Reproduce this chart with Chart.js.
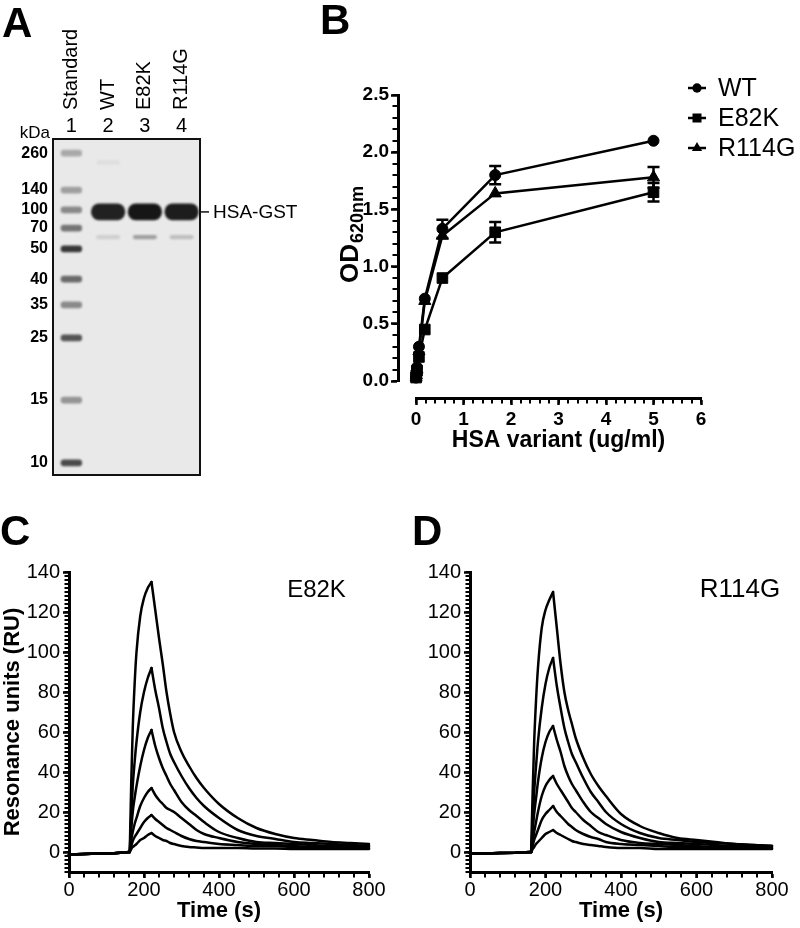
<!DOCTYPE html>
<html>
<head>
<meta charset="utf-8">
<script src="https://cdn.jsdelivr.net/npm/chart.js@4.4.1/dist/chart.umd.min.js"></script>
<style>
  html, body { margin: 0; padding: 0; background: #fff; }
  #fig { position: relative; width: 800px; height: 928px; overflow: hidden; }
  #fig canvas { position: absolute; left: 0; top: 0; }
  .tag { position: absolute; font: bold 42px "Liberation Sans", Arial, sans-serif; line-height: 42px; color: #000; }
</style>
</head>
<body>
<div id="fig">
  <canvas id="gel" width="800" height="928"></canvas>
  <canvas id="elisa" width="800" height="928"></canvas>
  <canvas id="sprC" width="800" height="928"></canvas>
  <canvas id="sprD" width="800" height="928"></canvas>
  <div class="tag" style="left:2px;top:2px">A</div>
  <div class="tag" style="left:320px;top:-1px">B</div>
  <div class="tag" style="left:0px;top:510px">C</div>
  <div class="tag" style="left:412px;top:510px">D</div>
</div>
<script>
// ---- Panel A: SDS-PAGE, relative mobility (0 = top of gel, 1 = bottom) ----
const laneNames = ['Standard', 'WT', 'E82K', 'R114G'];
const laneNums = ['1', '2', '3', '4'];
const ladderKDa = [260, 140, 100, 70, 50, 40, 35, 25, 15, 10];
const ladderRf = [0.042, 0.152, 0.211, 0.265, 0.327, 0.417, 0.494, 0.592, 0.777, 0.964];
const ladderIntensity = [0.3, 0.35, 0.45, 0.55, 0.85, 0.6, 0.45, 0.7, 0.4, 0.75];
const fusionLanes = ['WT', 'E82K', 'R114G'];
const fusionRf = [0.217, 0.217, 0.217];
const fusionIntensity = [0.95, 1, 0.97];
const minorLanes = ['WT', 'E82K', 'R114G', 'WT'];
const minorRf = [0.292, 0.292, 0.292, 0.07];
const minorIntensity = [0.12, 0.35, 0.2, 0.05];

// ---- Panel B: binding ELISA ----
const conc = [5, 1.667, 0.556, 0.185, 0.062, 0.021, 0.007, 0.002];
const odWT = [2.10, 1.80, 1.33, 0.72, 0.30, 0.12, 0.06, 0.03];
const errWT = [0.01, 0.08, 0.08, 0.03, 0.02, 0.01, 0.01, 0.01];
const odE82K = [1.65, 1.30, 0.90, 0.45, 0.21, 0.09, 0.05, 0.03];
const errE82K = [0.08, 0.09, 0.02, 0.02, 0.02, 0.01, 0.01, 0.01];
const odR114G = [1.78, 1.64, 1.27, 0.70, 0.26, 0.10, 0.05, 0.03];
const errR114G = [0.09, 0.02, 0.03, 0.03, 0.02, 0.01, 0.01, 0.01];
const odYTicks = [0, 0.5, 1.0, 1.5, 2.0, 2.5];
const concXTicks = [0, 1, 2, 3, 4, 5, 6];
const odTitle = ['OD', '620nm'];

// ---- Panels C, D: SPR sensorgrams ----
const sprTime = [0, 40, 80, 120, 162, 166, 170, 175, 180, 190, 200, 210, 220, 230, 240, 250, 260, 270, 280,
  300, 320, 340, 360, 400, 450, 500, 550, 600, 650, 700, 750, 800];
const sprE82K = [
  [-1.2, -1.0, -0.8, -0.6, 0, 35, 62, 84, 100, 118, 127, 132, 135, 121, 107, 94, 80, 69, 60, 50, 43, 37, 32, 24, 17, 12, 9, 7, 6, 5, 4.5, 4],
  [-1.2, -1.0, -0.8, -0.6, 0, 18, 33, 45, 55, 70, 80, 87, 92, 81, 72, 62, 55, 49, 45, 38, 32, 27, 23, 17, 11, 8, 6.5, 5, 4.5, 4, 3.5, 3],
  [-1.2, -1.0, -0.8, -0.6, 0, 11, 20, 27, 33, 43, 51, 57, 61, 53, 47, 42, 38, 34, 31, 25, 21, 18, 15, 10, 7, 5, 4.5, 4, 3.5, 3, 3, 3],
  [-1.2, -1.0, -0.8, -0.6, 0, 6, 10, 14, 17, 23, 27, 30, 32, 28.5, 26, 24, 22, 21, 20, 17, 14, 11, 9, 7, 5, 4, 3.5, 3, 2.5, 2.5, 2, 2],
  [-1.2, -1.0, -0.8, -0.6, 0, 3, 5.5, 7.5, 9, 12, 15, 17, 18.5, 16.5, 15, 13.5, 12, 11, 10, 8, 6.5, 5.5, 5, 4, 3.5, 3, 3, 2.5, 2.5, 2, 2, 2],
  [-1.2, -1.0, -0.8, -0.6, 0, 1.5, 2.5, 3.2, 4, 6, 7, 8.5, 9.5, 8, 7, 6, 5.5, 4.5, 4, 3, 2.5, 2.3, 2, 2, 2, 1.8, 1.8, 1.5, 1.5, 1.5, 1.5, 1.5]
];
const sprR114G = [
  [-0.8, -0.7, -0.5, -0.4, 0, 30, 55, 76, 92, 112, 121, 126, 130, 112, 94, 80, 71, 64, 57, 47, 39, 33, 28, 19, 13, 9.5, 7, 6, 5, 4, 3.5, 3],
  [-0.8, -0.7, -0.5, -0.4, 0, 15, 30, 43, 55, 72, 84, 92, 97, 83, 72, 62, 55, 49, 45, 37, 30, 25, 20, 14, 9.5, 7, 6, 5, 4.5, 4, 3.5, 3],
  [-0.8, -0.7, -0.5, -0.4, 0, 10, 19, 27, 35, 47, 55, 60, 63, 56, 50, 43, 38, 34, 31, 25, 20, 17, 14, 10, 7, 5, 4.5, 4, 3.5, 3, 3, 3],
  [-0.8, -0.7, -0.5, -0.4, 0, 5, 10, 15, 20, 28, 33, 36, 38, 34, 31, 28, 25, 22, 20, 16, 13, 10, 8.5, 6, 4.5, 4, 3.5, 3, 2.5, 2.5, 2, 2],
  [-0.8, -0.7, -0.5, -0.4, 0, 3, 6, 8.5, 11, 16, 19, 21, 23, 20, 18, 16, 14, 12.5, 11, 9, 7.5, 6.5, 5, 4, 3.5, 3, 2.5, 2.5, 2, 2, 2, 2],
  [-0.8, -0.7, -0.5, -0.4, 0, 1.5, 2.5, 4, 5, 7, 9, 10, 11, 9.5, 8.5, 7.5, 6.5, 5.5, 5, 4, 3.5, 3, 2.5, 2, 2, 1.5, 1.5, 1.5, 1.5, 1.5, 1.5, 1.5]
];
const injectStart = 162;  // s, start of association
const injectEnd = 220;    // s, start of dissociation
const sprXTicks = [0, 200, 400, 600, 800];
const sprYTicks = [0, 20, 40, 60, 80, 100, 120, 140];

const FONT = '"Liberation Sans", Arial, Helvetica, sans-serif';
Chart.defaults.font.family = FONT;
Chart.defaults.color = '#000';
Chart.defaults.animation = false;
Chart.defaults.events = [];
Chart.defaults.plugins.legend.display = false;
Chart.defaults.plugins.tooltip.enabled = false;

// short minor tick marks along the axes, placed through the chart's scales.
// len is measured from the outer edge of the 3px axis line.
function minorTicks(specs) {
  const half = 1.5;
  return {
    id: 'minorTicks',
    afterDraw(chart) {
      const ctx = chart.ctx;
      ctx.save();
      ctx.strokeStyle = '#000';
      ctx.lineWidth = 2;
      specs.forEach(m => {
        const s = chart.scales[m.axis];
        ctx.beginPath();
        for (let v = m.from; v <= m.to + 1e-9; v += m.step) {
          const p = Math.round(s.getPixelForValue(v));
          if (s.isHorizontal()) {
            ctx.moveTo(p, s.top);
            ctx.lineTo(p, s.top + half + m.len);
          } else {
            ctx.moveTo(s.right, p);
            ctx.lineTo(s.right - half - m.len, p);
          }
        }
        ctx.stroke();
      });
      ctx.restore();
    }
  };
}

// empty spacer axis, gives the Prism style gap between axis and plot
function gapAxis(position, size, weight) {
  return {
    type: 'linear', position, weight,
    ticks: { display: false },
    grid: { display: false, drawTicks: false },
    border: { display: false },
    afterFit: s => { if (s.isHorizontal()) s.height = size; else s.width = size; }
  };
}

// ================= Panel A =================
const gray = a => `rgba(22,22,22,${a})`;

const gelPlugin = {
  id: 'gelDeco',
  beforeDatasetsDraw(chart) {
    const { ctx, chartArea: a } = chart;
    ctx.save();
    ctx.fillStyle = '#e9e9e9';
    ctx.fillRect(a.left, a.top, a.right - a.left, a.bottom - a.top);
    ctx.filter = 'blur(1.3px)';
  },
  afterDatasetsDraw(chart) {
    chart.ctx.restore();
  },
  afterDraw(chart) {
    const { ctx, chartArea: a, scales: { x, y } } = chart;
    ctx.save();
    ctx.strokeStyle = '#111';
    ctx.lineWidth = 2;
    ctx.strokeRect(a.left, a.top, a.right - a.left, a.bottom - a.top);
    ctx.fillStyle = '#000';
    // lane labels
    laneNames.forEach((name, i) => {
      const px = x.getPixelForValue(i);
      ctx.font = '20px ' + FONT;
      ctx.textAlign = 'center';
      ctx.textBaseline = 'middle';
      ctx.fillText(laneNums[i], px, a.top - 13);
      ctx.save();
      ctx.translate(px, a.top - 29);
      ctx.rotate(-Math.PI / 2);
      ctx.textAlign = 'left';
      ctx.fillText(name, 0, 0);
      ctx.restore();
    });
    // kDa unit
    ctx.font = '17px ' + FONT;
    ctx.textAlign = 'right';
    ctx.fillText('kDa', a.left - 3, a.top - 6);
    // HSA-GST marker
    const by = y.getPixelForValue(fusionRf[0]);
    ctx.lineWidth = 1.5;
    ctx.beginPath();
    ctx.moveTo(a.right, by);
    ctx.lineTo(a.right + 9, by);
    ctx.stroke();
    ctx.font = '19px ' + FONT;
    ctx.textAlign = 'left';
    ctx.fillText('HSA-GST', a.right + 13, by + 1);
    ctx.restore();
  }
};

new Chart(document.getElementById('gel'), {
  type: 'bar',
  data: {
    labels: laneNames,
    datasets: [
      {
        label: 'ladder',
        data: ladderRf.map(r => ({ x: laneNames[0], y: [r - 0.01, r + 0.01] })),
        backgroundColor: ladderIntensity.map(gray),
        barPercentage: 0.58, categoryPercentage: 1, grouped: false,
        borderRadius: 3, borderSkipped: false
      },
      {
        label: 'HSA-GST',
        data: fusionLanes.map((l, i) => ({ x: l, y: [fusionRf[i] - 0.025, fusionRf[i] + 0.025] })),
        backgroundColor: fusionIntensity.map(gray),
        barPercentage: 0.93, categoryPercentage: 1, grouped: false,
        borderRadius: 8, borderSkipped: false
      },
      {
        label: 'minor',
        data: minorLanes.map((l, i) => ({ x: l, y: [minorRf[i] - 0.006, minorRf[i] + 0.006] })),
        backgroundColor: minorIntensity.map(gray),
        barPercentage: 0.65, categoryPercentage: 1, grouped: false,
        borderRadius: 3, borderSkipped: false
      }
    ]
  },
  options: {
    responsive: false,
    devicePixelRatio: 1,
    layout: { padding: { left: 0, top: 139, right: 600, bottom: 453 } },
    scales: {
      x: { type: 'category', display: false, afterFit: s => { s.height = 0; } },
      y: {
        type: 'linear', reverse: true, min: 0, max: 1,
        afterBuildTicks: s => { s.ticks = ladderRf.map(v => ({ value: v })); },
        ticks: { autoSkip: false, padding: 5, font: { size: 16, weight: 'bold' }, callback: (v, i) => ladderKDa[i] },
        grid: { display: false, drawTicks: false },
        border: { display: false },
        afterFit: s => { s.width = 53; }
      }
    }
  },
  plugins: [gelPlugin]
});

// ================= Panel B =================
const errorBarPlugin = {
  id: 'errorBars',
  afterDatasetsDraw(chart) {
    const { ctx, scales: { y } } = chart;
    ctx.save();
    ctx.strokeStyle = '#000';
    ctx.lineWidth = 2.5;
    chart.data.datasets.forEach((ds, di) => {
      const meta = chart.getDatasetMeta(di);
      ds.errors.forEach((e, i) => {
        const pt = meta.data[i];
        const v = ds.data[i].y;
        const top = y.getPixelForValue(v + e);
        const bot = y.getPixelForValue(v - e);
        if (bot - top < 12) return;
        ctx.beginPath();
        ctx.moveTo(pt.x, top); ctx.lineTo(pt.x, bot);
        ctx.moveTo(pt.x - 6, top); ctx.lineTo(pt.x + 6, top);
        ctx.moveTo(pt.x - 6, bot); ctx.lineTo(pt.x + 6, bot);
        ctx.stroke();
      });
    });
    ctx.restore();
  }
};

const odDecoPlugin = {
  id: 'odDeco',
  afterDraw(chart) {
    const { ctx, chartArea: a } = chart;
    ctx.save();
    ctx.fillStyle = '#000';
    // y title with subscript
    ctx.translate(a.left - 58, (a.top + a.bottom) / 2 + 45);
    ctx.rotate(-Math.PI / 2);
    ctx.textAlign = 'left';
    ctx.textBaseline = 'alphabetic';
    ctx.font = 'bold 26px ' + FONT;
    ctx.fillText(odTitle[0], 0, 0);
    const w = ctx.measureText(odTitle[0]).width;
    ctx.font = 'bold 18px ' + FONT;
    ctx.fillText(odTitle[1], w + 1, 5);
    ctx.restore();

    // legend
    ctx.save();
    chart.data.datasets.forEach((ds, i) => {
      const cy = a.top - 7 + i * 30;
      const cx = a.right - 4;
      ctx.strokeStyle = '#000';
      ctx.fillStyle = '#000';
      ctx.lineWidth = 2.5;
      ctx.beginPath();
      ctx.moveTo(cx - 9, cy);
      ctx.lineTo(cx + 9, cy);
      ctx.stroke();
      Chart.helpers.drawPoint(ctx, { pointStyle: ds.pointStyle, radius: ds.pointRadius * 0.85, borderWidth: 0, rotation: 0 }, cx, cy);
      ctx.font = '25px ' + FONT;
      ctx.textAlign = 'left';
      ctx.textBaseline = 'middle';
      ctx.fillText(ds.label, a.right + 17, cy + 1);
    });
    ctx.restore();
  }
};

function odSeries(label, values, errors, pointStyle, radius) {
  return {
    label,
    data: conc.map((c, i) => ({ x: c, y: values[i] })),
    errors,
    borderColor: '#000', backgroundColor: '#000',
    borderWidth: 2.5,
    pointStyle, pointRadius: radius, pointBorderWidth: 1,
    pointBackgroundColor: '#000', pointBorderColor: '#000',
    tension: 0, clip: false
  };
}

new Chart(document.getElementById('elisa'), {
  type: 'line',
  data: {
    datasets: [
      odSeries('WT', odWT, errWT, 'circle', 5.5),
      odSeries('E82K', odE82K, errE82K, 'rect', 7.5),
      odSeries('R114G', odR114G, errR114G, 'triangle', 7)
    ]
  },
  options: {
    responsive: false,
    devicePixelRatio: 1,
    layout: { padding: { left: 338, top: 95, right: 99, bottom: 474 } },
    scales: {
      x: {
        type: 'linear', position: 'bottom', min: 0, max: 6, weight: 2,
        afterBuildTicks: s => { s.ticks = concXTicks.map(v => ({ value: v })); },
        ticks: { autoSkip: false, maxRotation: 0, padding: 3, font: { size: 19, weight: 'bold' } },
        grid: { drawOnChartArea: false, tickLength: 7, tickWidth: 2.5, tickColor: '#000' },
        border: { width: 3, color: '#000' },
        title: { display: true, text: 'HSA variant (ug/ml)', font: { size: 23, weight: 'bold' }, padding: 0 },
        afterFit: s => { s.height = 56; }
      },
      gapX: gapAxis('bottom', 17, 0),
      y: {
        type: 'linear', position: 'left', min: 0, max: 2.5, weight: 2,
        afterBuildTicks: s => { s.ticks = odYTicks.map(v => ({ value: v })); },
        ticks: { autoSkip: false, padding: 2, font: { size: 19, weight: 'bold' }, callback: v => v.toFixed(1) },
        grid: { drawOnChartArea: false, tickLength: 7, tickWidth: 2.5, tickColor: '#000' },
        border: { width: 3, color: '#000' },
        afterFit: s => { s.width = 60; }
      },
      gapY: gapAxis('left', 18, 0)
    }
  },
  plugins: [errorBarPlugin, odDecoPlugin, minorTicks([
    { axis: 'x', from: 0, to: 6, step: 0.2, len: 4 },
    { axis: 'y', from: 0, to: 2.5, step: 0.1, len: 4 }
  ])]
});

// ================= Panels C and D =================
const sprTagPlugin = {
  id: 'sprTag',
  afterDraw(chart, args, opts) {
    const { ctx, scales: { x, y } } = chart;
    ctx.save();
    ctx.fillStyle = '#000';
    ctx.font = opts.size + 'px ' + FONT;
    ctx.textAlign = 'center';
    ctx.textBaseline = 'middle';
    ctx.fillText(opts.text, x.getPixelForValue(opts.at[0]), y.getPixelForValue(opts.at[1]));
    ctx.restore();
  }
};

// each sensorgram is drawn as baseline, association and dissociation phases
function sprDatasets(curves) {
  const phases = [
    { keep: t => t <= injectStart, mode: 'default' },
    { keep: t => t >= injectStart && t <= injectEnd, mode: 'monotone' },
    { keep: t => t >= injectEnd, mode: 'monotone' }
  ];
  const out = [];
  curves.forEach(c => {
    phases.forEach(ph => {
      out.push({
        data: sprTime.map((t, i) => ({ x: t, y: c[i] })).filter(p => ph.keep(p.x)),
        borderColor: '#000',
        borderWidth: 2.5,
        pointRadius: 0,
        tension: 0,
        cubicInterpolationMode: ph.mode,
        borderCapStyle: 'round',
        clip: false
      });
    });
  });
  return out;
}

function sprChart(canvasId, curves, tag, frame) {
  return new Chart(document.getElementById(canvasId), {
    type: 'line',
    data: { datasets: sprDatasets(curves) },
    options: {
      responsive: false,
      devicePixelRatio: 1,
      layout: { padding: { left: frame.left, top: 572, right: frame.right, bottom: 4 } },
      plugins: { sprTag: tag },
      scales: {
        x: {
          type: 'linear', position: 'bottom', min: 0, max: 800,
          afterBuildTicks: s => { s.ticks = sprXTicks.map(v => ({ value: v })); },
          ticks: { autoSkip: false, maxRotation: 0, padding: 0, font: { size: 20 } },
          grid: { drawOnChartArea: false, tickLength: 6, tickWidth: 2.5, tickColor: '#000' },
          border: { width: 3, color: '#000' },
          title: { display: true, text: 'Time (s)', font: { size: 22, weight: 'bold' }, padding: 0 },
          afterFit: s => { s.height = 52; }
        },
        y: {
          type: 'linear', position: 'left', min: -10, max: 140,
          afterBuildTicks: s => { s.ticks = sprYTicks.map(v => ({ value: v })); },
          ticks: { autoSkip: false, padding: 3, font: { size: 20 } },
          grid: { drawOnChartArea: false, tickLength: 6, tickWidth: 2.5, tickColor: '#000' },
          border: { width: 3, color: '#000' },
          title: { display: frame.yTitle, text: 'Resonance units (RU)', font: { size: 22, weight: 'bold' }, padding: 0 },
          afterFit: s => { s.width = frame.axisW; }
        }
      }
    },
    plugins: [sprTagPlugin, minorTicks([
      { axis: 'x', from: 0, to: 800, step: 40, len: 4 },
      { axis: 'y', from: -10, to: 140, step: 2, len: 3 }
    ])]
  });
}

sprChart('sprC', sprE82K, { text: 'E82K', size: 24, at: [660, 131] }, { left: 0, right: 431, axisW: 69, yTitle: true });
sprChart('sprD', sprR114G, { text: 'R114G', size: 26, at: [715, 131] }, { left: 400, right: 28, axisW: 70, yTitle: false });
</script>
</body>
</html>
